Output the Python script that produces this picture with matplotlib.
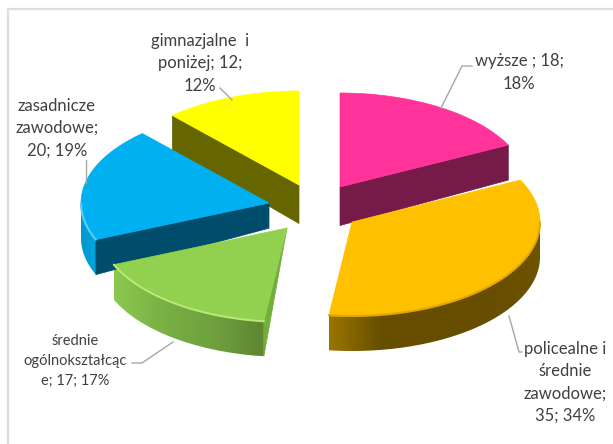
import numpy as np
import matplotlib
matplotlib.use('Agg')
import matplotlib.pyplot as plt
from matplotlib.colors import LinearSegmentedColormap
from matplotlib.patches import Polygon

# slices, clockwise from 12 o'clock
names = ['wyższe', 'policealne i średnie zawodowe', 'średnie ogólnokształcące',
         'zasadnicze zawodowe', 'gimnazjalne i poniżej']
values = [18, 35, 17, 20, 12]
percents = [18, 34, 17, 19, 12]

label_lines = [
    ['wyższe ; 18;', '18%'],
    ['policealne i', 'średnie', 'zawodowe;', '35; 34%'],
    ['średnie', 'ogólnokształcąc', 'e; 17; 17%'],
    ['zasadnicze', 'zawodowe;', '20; 19%'],
    ['gimnazjalne  i', 'poniżej; 12;', '12%'],
]

# layout, all in pixels of the 613x444 picture
RX, RY, DEPTH = 188, 94, 35
apex = [(340, 187), (352, 222), (287, 228), (269, 203), (299, 185)]
draw_order = [4, 0, 3, 1, 2]

top_colors = ['#FF3399', '#FFC000', '#92D050', '#00B0F0', '#FFFF00']
face_colors = ['#761A47', None, '#74AD3C', '#004D6B', '#666600']
face_edge = ['end', None, 'start', 'start', 'start']
face_apex_depth = [1.1, 0, 0, 0.72, 1.1]
rim_ramps = [None, ['#9A7600', '#664D00', '#664D00', '#664D00', '#6E5300'],
             ['#8CC84E', '#78B044', '#6FA03E', '#5E8531'],
             ['#0098D0', '#00A4E0'], None]
bevel_colors = [None, '#E0A800', '#B8E878', '#60CCF5', None]

label_x = [519, 565, 75, 57, 200]
label_y = [[61, 84], [349, 371, 394, 416], [341, 361, 381],
           [106, 128, 151], [41, 63, 86]]
label_size = [12, 12, 10.5, 12, 12]
leaders = [
    [(441, 108), (462, 66), (472, 66)],
    [(509, 316), (519, 352), (522, 352)],
    [(173, 342), (142, 363), (132, 363)],
    [(86, 160), (86, 183)],
    [(220, 88), (232, 100)],
]


def rim_point(center, angle):
    return (center[0] + RX * np.sin(angle), center[1] - RY * np.cos(angle))


fig = plt.figure(figsize=(6.13, 4.44), dpi=100)
ax = fig.add_axes([0, 0, 1, 1])
ax.axis('off')

# only the top and left chart border fall inside the picture
ax.plot([613, 8, 8], [9, 9, 444], color='#DEDEDE', lw=1.6)

edges = np.cumsum([0] + values) / sum(values) * 2 * np.pi

for i in draw_order:
    a0, a1 = edges[i], edges[i + 1]
    c = apex[i]
    th = np.linspace(a0, a1, 200)
    x, y = rim_point(c, th)
    vis = (th >= np.pi / 2) & (th <= 3 * np.pi / 2)

    # outer rim, only where it turns towards the viewer
    if rim_ramps[i] is not None:
        xv, yv = x[vis], y[vis]
        outline = np.c_[np.r_[xv, xv[::-1]], np.r_[yv, yv[::-1] + DEPTH]]
        cmap = LinearSegmentedColormap.from_list('rim', rim_ramps[i])
        img = ax.imshow(np.linspace(0, 1, 256)[None, :], cmap=cmap, aspect='auto',
                        extent=[xv.min(), xv.max(), yv.max() + DEPTH, yv.min()],
                        interpolation='bilinear')
        img.set_clip_path(Polygon(outline, transform=ax.transData))

    # radial cut face
    if face_edge[i] is not None:
        cx, cy = rim_point(c, a1 if face_edge[i] == 'end' else a0)
        ax.fill([c[0], cx, cx, c[0]],
                [c[1], cy, cy + DEPTH, c[1] + DEPTH * face_apex_depth[i]],
                color=face_colors[i], lw=0.5)

    # top surface
    ax.fill(np.r_[c[0], x], np.r_[c[1], y], color=top_colors[i], lw=0.5)
    if bevel_colors[i] is not None:
        ax.plot(x[vis], y[vis], color=bevel_colors[i], lw=1.5, solid_capstyle='round')

for pts in leaders:
    ax.plot(*zip(*pts), color='#A6A6A6', lw=1)

for lines, lx, ys, size in zip(label_lines, label_x, label_y, label_size):
    for line, ly in zip(lines, ys):
        ax.text(lx, ly, line, ha='center', va='center', fontsize=size,
                family='Lato', color='#404040')

ax.set_xlim(0, 613)
ax.set_ylim(444, 0)
fig.savefig('out.png', dpi=100)
